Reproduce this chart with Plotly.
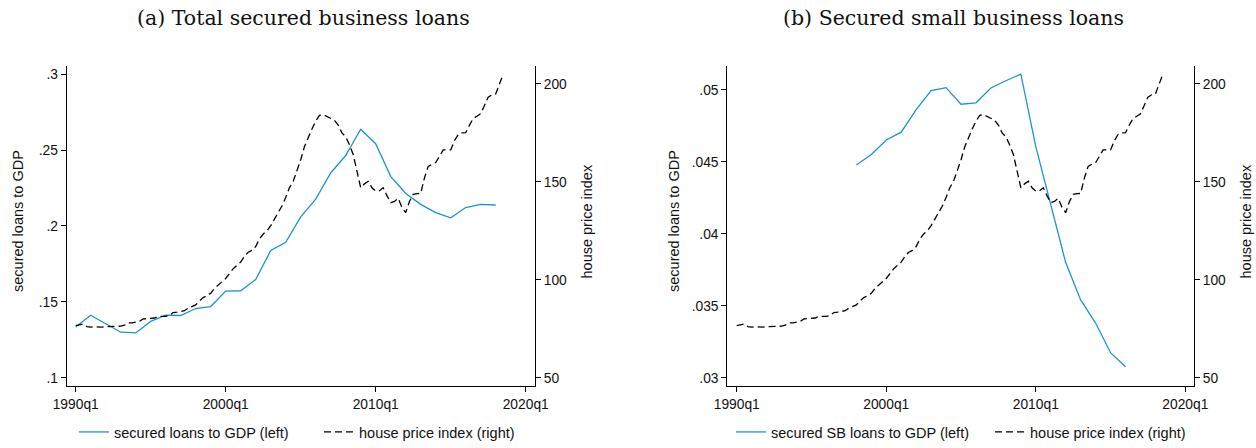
import plotly.graph_objects as go

# ---------------- data ----------------
start_year = 1990
hpi_values = [
    76.6, 77.1, 77.4, 76.1,
    75.8, 76.1, 75.8, 75.8,
    76.1, 76.1, 76.4, 76.3,
    76.3, 76.8, 78.0, 78.0,
    78.5, 78.8, 80.0, 80.1,
    80.5, 80.5, 81.3, 81.3,
    81.3, 81.8, 83.3, 83.5,
    83.8, 84.2, 85.5, 86.4,
    87.2, 89.2, 90.9, 91.9,
    93.1, 95.6, 97.3, 99.0,
    100.7, 103.2, 105.7, 107.4,
    109.1, 112.0, 114.1, 115.0,
    117.0, 120.9, 123.4, 125.0,
    127.6, 131.0, 134.0, 137.7,
    142.0, 147.0, 150.3, 155.4,
    161.3, 168.0, 173.0, 177.0,
    181.0, 184.0, 184.3, 183.5,
    182.5, 181.5, 179.0, 175.0,
    173.0, 169.0, 164.0, 155.0,
    147.0, 149.0, 150.3, 147.0,
    145.3, 145.5, 147.0, 143.0,
    139.4, 140.0, 141.6, 137.0,
    134.3, 140.0, 143.6, 144.0,
    144.1, 152.0, 157.9, 159.0,
    159.9, 163.0, 166.3, 166.3,
    166.3, 171.0, 174.2, 175.0,
    175.1, 179.0, 182.3, 183.5,
    184.8, 189.0, 193.3, 194.5,
    194.9, 200.0, 205.0,
]

loan_years = list(range(1990, 2019))
secured_loans_gdp = [
    0.1334, 0.1412, 0.1356, 0.1300, 0.1295, 0.1371, 0.1412, 0.1410, 0.1456, 0.1469,
    0.1571, 0.1573, 0.1647, 0.1838, 0.1892, 0.2060, 0.2177, 0.2349, 0.2464, 0.2637,
    0.2542, 0.2327, 0.2214, 0.2142, 0.2088, 0.2053, 0.2121, 0.2142, 0.2138,
]

sb_years = list(range(1998, 2017))
secured_sb_loans_gdp = [
    0.04478, 0.04551, 0.04652, 0.04707, 0.04863, 0.04995, 0.05016, 0.04901, 0.04911, 0.05014,
    0.05064, 0.05110, 0.04606, 0.04196, 0.03800, 0.03541, 0.03380, 0.03174, 0.03076,
]

x_tick_years = [1990, 2000, 2010, 2020]
x_tick_labels = ["1990q1", "2000q1", "2010q1", "2020q1"]

left_ticks_a = [0.1, 0.15, 0.2, 0.25, 0.3]
left_labels_a = [".1", ".15", ".2", ".25", ".3"]
left_ticks_b = [0.03, 0.035, 0.04, 0.045, 0.05]
left_labels_b = [".03", ".035", ".04", ".045", ".05"]
right_ticks = [50, 100, 150, 200]

# quarterly positions (q1 = year.00)
hpi_x = [start_year + i / 4 for i in range(len(hpi_values))]

# ---------------- style ----------------
W, H = 1256, 448
BLUE = "#1b95d0"
SANS = "Liberation Sans, Arial, Helvetica, sans-serif"
SERIF = "DejaVu Serif, serif"

def px_x(p):
    return p / W

def px_y(p):
    return 1 - p / H

y_dom = [px_y(390.7), px_y(66.7)]

fig = go.Figure()

# Panel (a)
fig.add_trace(go.Scatter(x=loan_years, y=secured_loans_gdp, mode="lines",
                         line=dict(color=BLUE, width=1.3),
                         name="secured loans to GDP (left)",
                         xaxis="x", yaxis="y", legend="legend"))
fig.add_trace(go.Scatter(x=hpi_x, y=hpi_values, mode="lines",
                         line=dict(color="black", width=1.3, dash="7px,4px"),
                         name="house price index (right)",
                         xaxis="x", yaxis="y2", legend="legend"))
# Panel (b)
fig.add_trace(go.Scatter(x=sb_years, y=secured_sb_loans_gdp, mode="lines",
                         line=dict(color=BLUE, width=1.3),
                         name="secured SB loans to GDP (left)",
                         xaxis="x2", yaxis="y3", legend="legend2"))
fig.add_trace(go.Scatter(x=hpi_x, y=hpi_values, mode="lines",
                         line=dict(color="black", width=1.3, dash="7px,4px"),
                         name="house price index (right)",
                         xaxis="x2", yaxis="y4", legend="legend2"))

axis_common = dict(showgrid=False, zeroline=False, showline=True, linecolor="black",
                   linewidth=1, ticks="outside", ticklen=5, tickcolor="black",
                   tickwidth=1, tickfont=dict(family=SANS, size=13.8, color="#111"),
                   automargin=False)

legend_common = dict(orientation="h", y=px_y(437), yanchor="middle", xanchor="left",
                     font=dict(family=SANS, size=14.5, color="#111"),
                     bgcolor="rgba(0,0,0,0)", itemwidth=30, tracegroupgap=0)

fig.update_layout(
    width=W, height=H,
    margin=dict(l=0, r=0, t=0, b=0),
    paper_bgcolor="white", plot_bgcolor="white",
    font=dict(family=SANS, size=14, color="#111"),
    xaxis=dict(domain=[px_x(66.7), px_x(535)], range=[1989.4, 2020.62], anchor="y",
               tickmode="array", tickvals=x_tick_years, ticktext=x_tick_labels, **axis_common),
    yaxis=dict(domain=y_dom, range=[0.09433, 0.3054], anchor="x", side="left",
               tickmode="array", tickvals=left_ticks_a, ticktext=left_labels_a, **axis_common),
    yaxis2=dict(range=[45.6, 209.2], overlaying="y", anchor="x", side="right",
                tickmode="array", tickvals=right_ticks, **axis_common),
    xaxis2=dict(domain=[px_x(727.3), px_x(1194)], range=[1989.37, 2020.58], anchor="y3",
                tickmode="array", tickvals=x_tick_years, ticktext=x_tick_labels, **axis_common),
    yaxis3=dict(domain=y_dom, range=[0.0294, 0.05167], anchor="x2", side="left",
                tickmode="array", tickvals=left_ticks_b, ticktext=left_labels_b, **axis_common),
    yaxis4=dict(range=[45.6, 209.2], overlaying="y3", anchor="x2", side="right",
                tickmode="array", tickvals=right_ticks, **axis_common),
    legend=dict(x=px_x(74), entrywidth=200, **legend_common),
    legend2=dict(x=px_x(731), entrywidth=214, **legend_common),
)

annotations = [
    dict(text="(a) Total secured business loans", x=px_x(303), y=px_y(18),
         font=dict(family=SERIF, size=20.5, color="#111")),
    dict(text="(b) Secured small business loans", x=px_x(953), y=px_y(18),
         font=dict(family=SERIF, size=20.5, color="#111")),
    dict(text="secured loans to GDP", x=px_x(17.5), y=px_y(224), textangle=-90,
         font=dict(family=SANS, size=14.5, color="#111")),
    dict(text="house price index", x=px_x(586), y=px_y(224), textangle=-90,
         font=dict(family=SANS, size=14.5, color="#111")),
    dict(text="secured loans to GDP", x=px_x(673.5), y=px_y(224), textangle=-90,
         font=dict(family=SANS, size=14.5, color="#111")),
    dict(text="house price index", x=px_x(1245), y=px_y(224), textangle=-90,
         font=dict(family=SANS, size=14.5, color="#111")),
]
for a in annotations:
    a.update(xref="paper", yref="paper", showarrow=False, xanchor="center", yanchor="middle")
fig.update_layout(annotations=annotations)

fig.write_html("out.html")
